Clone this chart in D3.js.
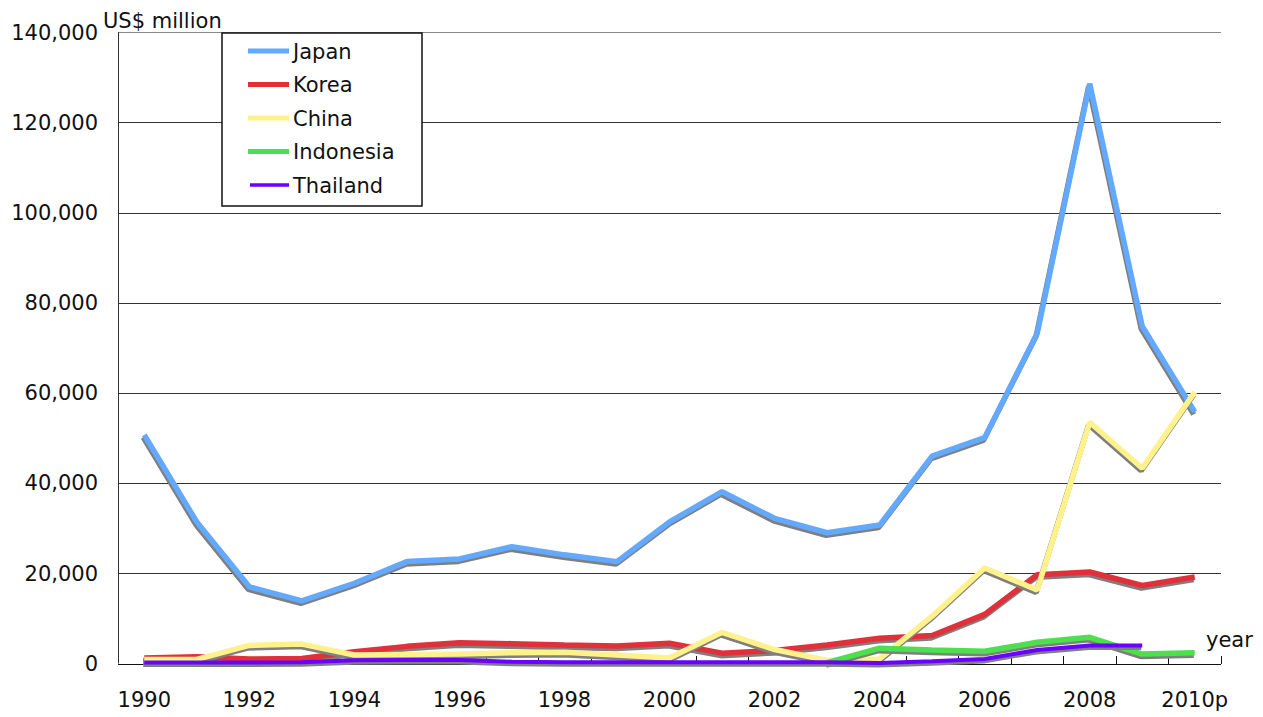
<!DOCTYPE html>
<html>
<head>
<meta charset="utf-8">
<script src="https://cdn.jsdelivr.net/npm/d3@7"></script>
<style>
  html, body { margin: 0; padding: 0; background: #fff; }
  svg { display: block; font-family: "DejaVu Sans", Verdana, sans-serif; }
</style>
</head>
<body>
<svg id="chart" width="1263" height="717"></svg>
<script>
// Outward FDI by source economy, US$ million
const years = ["1990","1991","1992","1993","1994","1995","1996","1997","1998","1999",
               "2000","2001","2002","2003","2004","2005","2006","2007","2008","2009","2010p"];
const yearLabels = ["1990","1992","1994","1996","1998","2000","2002","2004","2006","2008","2010p"];
const yTicks = [0, 20000, 40000, 60000, 80000, 100000, 120000, 140000];

const japan     = [50700, 31400, 17000, 13900, 17800, 22600, 23200, 25900, 24100, 22600,
                   31400, 38100, 32200, 29000, 30700, 46000, 50100, 73200, 128600, 74800, 55800];
const korea     = [1200, 1500, 1000, 1100, 2600, 3800, 4600, 4400, 4100, 3900,
                   4500, 2300, 2900, 4100, 5600, 6200, 10900, 19700, 20300, 17300, 19200];
const china     = [900, 900, 4000, 4300, 1900, 2000, 2100, 2400, 2500, 1900,
                   1200, 6900, 3100, 700, 1000, 10500, 21200, 16300, 53500, 43300, 60200];
const indonesia = [null, null, null, null, null, null, null, null, null, null,
                   null, null, null, 200, 3400, 3000, 2700, 4700, 5800, 2100, 2400];
const thailand  = [200, 200, 200, 300, 700, 800, 800, 400, 300, 300,
                   300, 300, 300, 300, 100, 500, 1000, 3000, 4000, 4000, null];

const seriesNames = ["Japan", "Korea", "China", "Indonesia", "Thailand"];
const seriesValues = [japan, korea, china, indonesia, thailand];
const seriesColors = ["#62a9ff", "#e0303a", "#fff28c", "#4ddf4d", "#6a00ff"];
const seriesWidths = [5.5, 5.5, 5.5, 5.5, 4];

const svg = d3.select("#chart");
const plotLeft = 118, plotRight = 1221, plotTop = 32.3, plotBottom = 663.5;

const x = d3.scaleBand().domain(years).range([plotLeft, plotRight]);
const cx = d => x(d) + x.bandwidth() / 2;
const y = d3.scaleLinear().domain([0, 140000]).range([plotBottom, plotTop]);

// horizontal gridlines
svg.append("g").selectAll("line")
  .data(yTicks.filter(t => t > 0))
  .join("line")
  .attr("x1", plotLeft).attr("x2", plotRight)
  .attr("y1", d => Math.round(y(d)) + 0.5).attr("y2", d => Math.round(y(d)) + 0.5)
  .attr("stroke", d => d === 140000 ? "#888" : "#333")
  .attr("stroke-width", 1);

// y axis labels
const yAxis = d3.axisLeft(y).tickValues(yTicks).tickFormat(d3.format(",")).tickSize(0).tickPadding(20);
const gy = svg.append("g").attr("transform", `translate(${plotLeft},0)`).call(yAxis);
gy.select(".domain").remove();
gy.selectAll("text").attr("font-size", 21).attr("fill", "#111")
  .attr("font-family", '"DejaVu Sans", Verdana, sans-serif');

// left axis line
svg.append("line")
  .attr("x1", plotLeft + 0.5).attr("x2", plotLeft + 0.5)
  .attr("y1", plotTop).attr("y2", plotBottom)
  .attr("stroke", "#333");

// x axis line with inward ticks at category boundaries
svg.append("line")
  .attr("x1", plotLeft).attr("x2", plotRight)
  .attr("y1", Math.round(plotBottom) + 0.5).attr("y2", Math.round(plotBottom) + 0.5)
  .attr("stroke", "#111");
const boundaries = years.map(d => x(d)).concat([x(years[years.length - 1]) + x.bandwidth()]);
svg.append("g").selectAll("line")
  .data(boundaries.slice(1))
  .join("line")
  .attr("x1", d => Math.round(d) + 0.5).attr("x2", d => Math.round(d) + 0.5)
  .attr("y1", Math.round(plotBottom) - 8).attr("y2", Math.round(plotBottom))
  .attr("stroke", "#111");

// x axis labels
const xAxis = d3.axisBottom(x).tickValues(yearLabels).tickSize(0).tickPadding(39);
const gx = svg.append("g").attr("transform", `translate(0,${Math.round(plotBottom)})`).call(xAxis);
gx.select(".domain").remove();
gx.selectAll("text").attr("font-size", 21).attr("fill", "#111")
  .attr("font-family", '"DejaVu Sans", Verdana, sans-serif')
  .attr("dy", "0.2em");

// series lines, each with a soft drop shadow
const line = d3.line()
  .defined(d => d.v !== null)
  .x(d => cx(d.year))
  .y(d => y(d.v));

seriesNames.forEach((name, i) => {
  const pts = years.map((yr, j) => ({ year: yr, v: seriesValues[i][j] }));
  const g = svg.append("g").attr("class", "series");
  g.append("path")
    .attr("d", line(pts))
    .attr("fill", "none")
    .attr("stroke", "#7f7f7f")
    .attr("stroke-width", seriesWidths[i])
    .attr("stroke-linejoin", "bevel")
    .attr("transform", "translate(-1,2.5)");
  g.append("path")
    .attr("d", line(pts))
    .attr("fill", "none")
    .attr("stroke", seriesColors[i])
    .attr("stroke-width", seriesWidths[i])
    .attr("stroke-linejoin", "bevel");
});

// unit and axis titles
svg.append("text").attr("x", 103).attr("y", 28)
  .attr("font-size", 21).attr("fill", "#111").text("US$ million");
svg.append("text").attr("x", 1206).attr("y", 647)
  .attr("font-size", 21).attr("fill", "#111").text("year");

// legend
const legend = svg.append("g");
legend.append("rect")
  .attr("x", 222).attr("y", 33).attr("width", 200).attr("height", 173)
  .attr("fill", "#fff").attr("stroke", "#111").attr("stroke-width", 1.5);
const rowY = d3.scalePoint().domain(seriesNames).range([51, 185]);
seriesNames.forEach((name, i) => {
  legend.append("line")
    .attr("x1", i === 4 ? 250 : 248).attr("x2", 289)
    .attr("y1", rowY(name)).attr("y2", rowY(name))
    .attr("stroke", seriesColors[i])
    .attr("stroke-width", i === 4 ? 3.5 : 5);
  legend.append("text")
    .attr("x", 293).attr("y", rowY(name))
    .attr("dy", "0.36em")
    .attr("font-size", 21).attr("fill", "#111")
    .text(name);
});
</script>
</body>
</html>
